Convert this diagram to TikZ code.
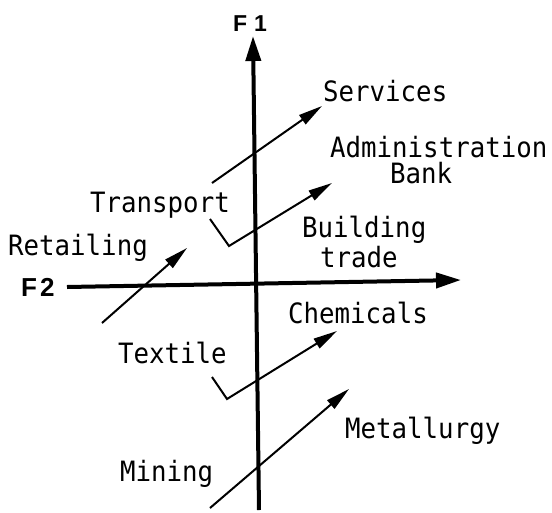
\documentclass[tikz,border=0pt]{standalone}
\usepackage{fontspec}
\newfontfamily\lblfont{DejaVu Sans Mono}[FakeStretch=0.92]
\newfontfamily\axfont{Liberation Sans}
\usetikzlibrary{arrows.meta}

\begin{document}
\begin{tikzpicture}[x=1pt, y=-1pt,
    axis/.style={line width=4pt, -{Triangle[length=25pt,width=15pt]}},
    sector/.style={line width=2pt, -{Triangle[length=24pt,width=11pt]}},
    lbl/.style={anchor=base west, inner sep=0pt, font=\lblfont\fontsize{28}{30}\selectfont},
    axlbl/.style={anchor=base west, inner sep=0pt, font=\axfont\bfseries\fontsize{#1}{#1}\selectfont},
    axlbl/.default=23]
    % ==== Frame (pixel units, y downwards) ====
    \useasboundingbox (0,0) rectangle (552,512);

    % Factor axes
    \coordinate (f1low) at (259,510);  \coordinate (f1top) at (253,36);
    \coordinate (f2left) at (67,287);  \coordinate (f2right) at (461,280);
    \draw[axis] (f1low) -- (f1top);
    \draw[axis] (f2left) -- (f2right);
    \node[axlbl] (f1) at (233,31) {F\kern7pt 1};
    \node[axlbl=26] (f2) at (21,296) {F\kern3pt 2};

    % Straight shifts: name / start / end
    \foreach \nm/\ax/\ay/\bx/\by in {serv/212/183/322/106, retl/102/323/187/248, mine/210/508/349/389}{
        \coordinate (\nm-a) at (\ax,\ay);
        \coordinate (\nm-b) at (\bx,\by);
        \draw[sector] (\nm-a) -- (\nm-b);
      }

    % Bent shifts
    \coordinate (tran-a) at (210,219); \coordinate (tran-k) at (229,246); \coordinate (tran-b) at (332,183);
    \coordinate (text-a) at (212,377); \coordinate (text-k) at (227,399); \coordinate (text-b) at (337,331);
    \draw[sector] (tran-a) -- (tran-k) -- (tran-b);
    \draw[sector] (text-a) -- (text-k) -- (text-b);

    % Sector labels
    \node[lbl] (services) at (323,101) {Services};
    \node[lbl] (admin) at (330,157) {Administration};
    \node[lbl] (bank) at (390,183) {Bank};
    \node[lbl] (building) at (302,237) {Building};
    \node[lbl] (trade) at (320,267) {trade};
    \node[lbl] (transport) at (90,212) {Transport};
    \node[lbl] (retailing) at (8,255) {Retailing};
    \node[lbl] (chemicals) at (288,323) {Chemicals};
    \node[lbl] (textile) at (118,363) {Textile};
    \node[lbl] (metallurgy) at (345,438) {Metallurgy};
    \node[lbl] (mining) at (120,481) {Mining};
  \end{tikzpicture}
\end{document}
